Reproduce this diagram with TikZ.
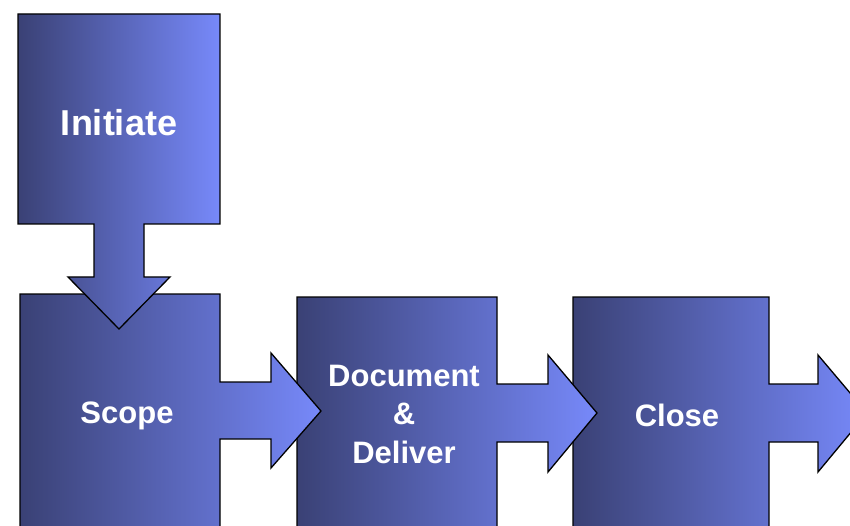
\documentclass[tikz,border=0pt]{standalone}
\usepackage{fontspec}
\setmainfont{Liberation Sans}
\definecolor{boxdark}{RGB}{58,65,117}
\definecolor{boxlight}{RGB}{119,137,250}
\begin{document}
\begin{tikzpicture}[x=1pt, y=-1pt,
    phase/.style={draw=black, line width=1.3pt, line join=miter,
        left color=boxdark, right color=boxlight},
    lbl/.style={text=white, font=\bfseries\fontsize{31}{38.5}\selectfont,
        align=center, inner sep=0pt}]
\useasboundingbox (0,0) rectangle (850,526);
\clip (0,0) rectangle (850,526);
% close, with its arrow running off the right edge
\draw[phase](573,297)--(769,297)--(769,384)--(818,384)--(818,355)--(867,413)
    --(818,472)--(818,442)--(769,442)--(769,540)--(573,540)--cycle;
% document & deliver
\draw[phase](297,297)--(497,297)--(497,384)--(548,384)--(548,355)--(597,413)
    --(548,472)--(548,442)--(497,442)--(497,540)--(297,540)--cycle;
% scope
\draw[phase](20,294)--(220,294)--(220,382)--(271,382)--(271,353)--(321,411)
    --(271,468)--(271,439)--(220,439)--(220,540)--(20,540)--cycle;
% initiate, arrow pointing down
\draw[phase](18,14)--(220,14)--(220,224)--(144,224)--(144,277)--(170,277)
    --(119,329)--(68,277)--(94,277)--(94,224)--(18,224)--cycle;

\node (initiate) at (119,136)[lbl, anchor=base, font=\bfseries\fontsize{36}{40}\selectfont]{Initiate};
\node (scope) at (127,423)[lbl, anchor=base]{Scope};
\node (document) at (404,414)[lbl]{Document\\\&\\Deliver};
\node (close) at (677,426)[lbl, anchor=base]{Close};
\end{tikzpicture}
\end{document}
